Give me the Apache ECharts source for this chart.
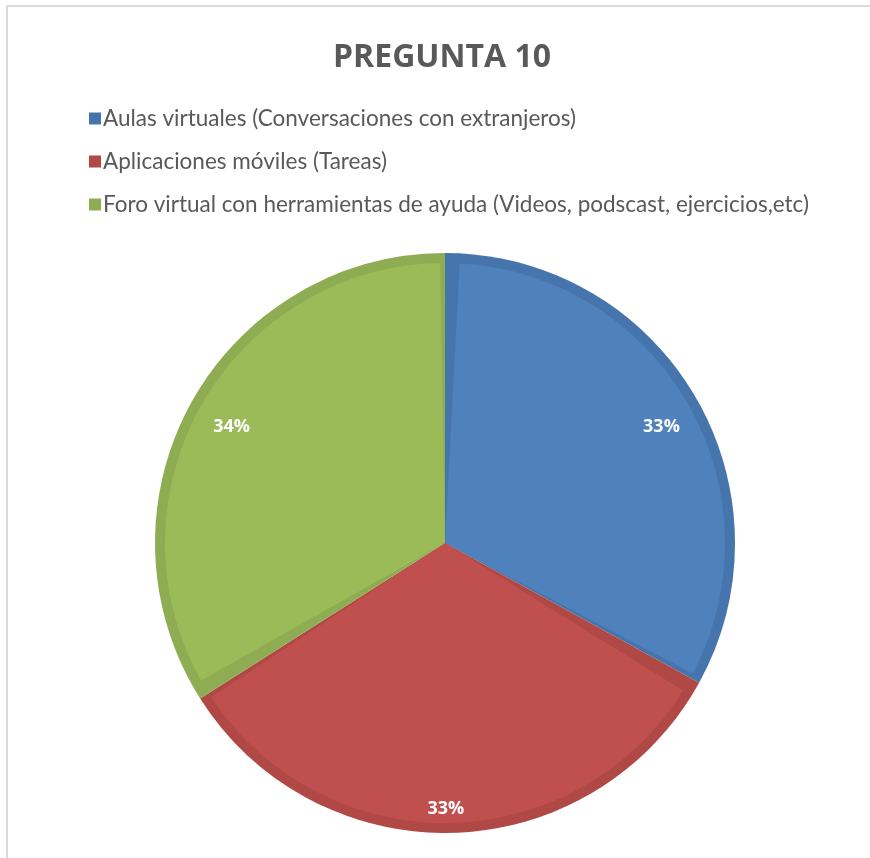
<!DOCTYPE html>
<html>
<head>
<meta charset="utf-8">
<script src="https://cdn.jsdelivr.net/npm/echarts@6/dist/echarts.min.js"></script>
<style>
html,body{margin:0;padding:0;background:#fff;}
#frame{position:absolute;left:6px;top:5px;width:864px;height:853px;border-top:2px solid #d9d9d9;border-left:2px solid #d9d9d9;}
#chart{position:absolute;left:0;top:0;width:870px;height:858px;}
</style>
</head>
<body>
<div id="frame"></div>
<div id="chart"></div>
<script>
const titleText = 'PREGUNTA 10';
const categories = [
  'Aulas virtuales (Conversaciones con extranjeros)',
  'Aplicaciones móviles (Tareas)',
  'Foro virtual con herramientas de ayuda (Videos, podscast, ejercicios,etc)'
];
const values = [33, 33, 34];
const lightColors = ['#4f81bd', '#c0504d', '#9bbb59'];
const darkColors = ['#4675ad', '#b04946', '#8eac52'];
const labelOffsets = [[3, 10], [-7, 18], [4, 3]];

const chart = echarts.init(document.getElementById('chart'));
const center = [445, 543];
const font = 'Lato, "Open Sans", sans-serif';

chart.setOption({
  animation: false,
  title: {
    text: titleText,
    left: 437, textAlign: 'center',
    top: 37,
    textStyle: { fontFamily: '"Open Sans", sans-serif', fontWeight: 'bold', fontSize: 32, color: '#595959' }
  },
  legend: {
    orient: 'vertical',
    left: 89, top: 107, padding: 0,
    itemWidth: 12, itemHeight: 12,
    itemGap: 20,
    icon: 'rect',
    data: categories,
    textStyle: { fontFamily: font, fontSize: 22.5, color: '#595959', padding: [0,0,0,-3] }
  },
  series: [
    {
      type: 'pie', name: 'dark', center: center, radius: 290,
      startAngle: 90, clockwise: true, silent: true,
      label: { show: false }, labelLine: { show: false },
      data: categories.map((c, i) => ({ name: c, value: values[i], itemStyle: { color: darkColors[i] } }))
    },
    {
      type: 'pie', name: 'light', center: center, radius: 280,
      startAngle: 89, clockwise: true, silent: true, padAngle: 4,
      label: { show: false }, labelLine: { show: false },
      data: categories.map((c, i) => ({ name: c, value: values[i], itemStyle: { color: lightColors[i] } }))
    },
    {
      type: 'pie', name: 'labels', center: center, radius: [200, 290],
      startAngle: 90, clockwise: true, silent: true,
      itemStyle: { color: 'rgba(0,0,0,0)' },
      label: {
        show: true, position: 'inside',
        formatter: p => p.value + '%',
        fontFamily: '"Open Sans", sans-serif', fontWeight: 'bold', fontSize: 18, color: '#ffffff'
      },
      labelLine: { show: false },
      data: categories.map((c, i) => ({
        name: c, value: values[i],
        label: { offset: labelOffsets[i] }
      }))
    }
  ]
});
</script>
</body>
</html>
